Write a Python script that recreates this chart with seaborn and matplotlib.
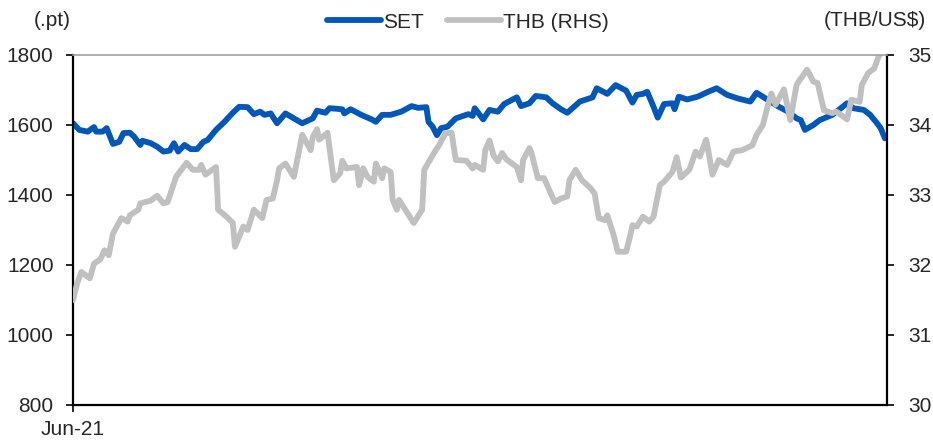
import numpy as np
import pandas as pd
import matplotlib
matplotlib.use("Agg")
import matplotlib.pyplot as plt
import matplotlib.dates as mdates
import seaborn as sns

# ── data ──────────────────────────────────────────────────────
start = pd.Timestamp("2021-06-01")
x_end_days = 387

set_days = [0, 3, 7, 10, 11, 14, 16, 19, 22, 24, 27, 29, 32, 33, 37, 40, 43, 46, 48, 50,
            53, 56, 59, 62, 64, 68, 72, 76, 79, 83, 86, 89, 91, 94, 97, 101, 105, 109, 114, 116,
            120, 122, 128, 129, 132, 137, 142, 144, 147, 151, 156, 161, 164, 168, 169, 171, 173, 175, 178, 182,
            188, 190, 191, 195, 198, 202, 205, 211, 213, 217, 220, 225, 228, 232, 235, 238, 241, 247, 249, 254,
            258, 263, 266, 268, 271, 273, 276, 278, 281, 285, 286, 288, 292, 297, 302, 306, 311, 316, 322, 325,
            330, 335, 340, 344, 346, 348, 352, 355, 357, 361, 363, 368, 371, 376, 379, 382, 384, 386]
set_vals = [1605, 1586, 1581, 1594, 1581, 1581, 1591, 1546, 1552, 1577, 1578, 1567, 1543, 1555, 1548, 1538, 1524, 1527, 1548, 1524,
            1543, 1531, 1531, 1552, 1557, 1586, 1609, 1635, 1652, 1651, 1631, 1638, 1629, 1633, 1605, 1633, 1619, 1605, 1619, 1641,
            1635, 1648, 1645, 1633, 1645, 1629, 1616, 1609, 1629, 1629, 1638, 1654, 1649, 1651, 1609, 1595, 1571, 1591, 1595, 1619,
            1631, 1626, 1648, 1616, 1643, 1638, 1660, 1679, 1654, 1662, 1683, 1679, 1662, 1645, 1635, 1651, 1667, 1679, 1705, 1689,
            1714, 1698, 1664, 1686, 1689, 1695, 1652, 1621, 1660, 1662, 1645, 1681, 1673, 1681, 1695, 1705, 1686, 1676, 1667, 1692,
            1673, 1654, 1638, 1619, 1614, 1586, 1600, 1614, 1619, 1629, 1638, 1662, 1648, 1643, 1629, 1607, 1591, 1562]

thb_days = [0, 2, 4, 8, 10, 13, 15, 17, 19, 23, 26, 27, 31, 32, 37, 40, 43, 45, 49, 54,
            57, 60, 61, 63, 68, 69, 73, 76, 77, 81, 83, 86, 90, 92, 95, 97, 98, 101, 105, 109,
            113, 114, 116, 117, 121, 124, 127, 128, 130, 135, 136, 138, 140, 143, 144, 147, 148, 151, 152, 154,
            155, 159, 160, 162, 166, 167, 172, 174, 177, 180, 182, 187, 190, 191, 195, 196, 198, 200, 202, 204,
            206, 211, 213, 214, 217, 218, 221, 224, 226, 229, 232, 235, 236, 239, 242, 246, 248, 250, 253, 254,
            257, 259, 263, 265, 266, 268, 271, 274, 276, 279, 281, 285, 287, 289, 293, 296, 298, 301, 302, 304,
            307, 311, 314, 318, 323, 325, 328, 330, 332, 334, 338, 341, 344, 345, 349, 352, 354, 357, 361, 363,
            368, 370, 374, 375, 378, 381, 383, 385]
thb_vals = [31.50, 31.74, 31.90, 31.81, 32.02, 32.08, 32.21, 32.14, 32.45, 32.67, 32.62, 32.71, 32.79, 32.88, 32.92, 32.99, 32.88, 32.90, 33.26, 33.46,
            33.36, 33.36, 33.43, 33.29, 33.40, 32.79, 32.69, 32.60, 32.26, 32.55, 32.50, 32.79, 32.67, 32.93, 32.95, 33.21, 33.38, 33.45, 33.26, 33.86,
            33.64, 33.83, 33.94, 33.79, 33.89, 33.21, 33.31, 33.49, 33.38, 33.40, 33.14, 33.38, 33.26, 33.19, 33.45, 33.24, 33.38, 33.33, 32.93, 32.79,
            32.93, 32.74, 32.69, 32.60, 32.79, 33.36, 33.62, 33.71, 33.88, 33.89, 33.50, 33.49, 33.38, 33.43, 33.36, 33.64, 33.78, 33.56, 33.48, 33.60,
            33.51, 33.40, 33.21, 33.50, 33.67, 33.60, 33.24, 33.24, 33.10, 32.90, 32.95, 32.98, 33.21, 33.36, 33.21, 33.10, 33.02, 32.67, 32.64, 32.71,
            32.43, 32.19, 32.19, 32.43, 32.57, 32.55, 32.69, 32.62, 32.69, 33.14, 33.19, 33.33, 33.54, 33.25, 33.36, 33.62, 33.55, 33.79, 33.64, 33.29,
            33.50, 33.43, 33.62, 33.64, 33.71, 33.86, 34.00, 34.24, 34.45, 34.29, 34.51, 34.07, 34.57, 34.62, 34.79, 34.62, 34.60, 34.21, 34.17, 34.19,
            34.08, 34.36, 34.33, 34.57, 34.74, 34.81, 34.98, 35.07]

left_ticks = [800, 1000, 1200, 1400, 1600, 1800]
right_ticks = [30, 31, 32, 33, 34, 35]

df_set = pd.DataFrame({"date": start + pd.to_timedelta(set_days, unit="D"), "SET": set_vals})
df_thb = pd.DataFrame({"date": start + pd.to_timedelta(thb_days, unit="D"), "THB": thb_vals})

# ── style ─────────────────────────────────────────────────────
sns.set_style("white")
plt.rcParams["font.family"] = ["Liberation Sans", "DejaVu Sans"]

BLUE = "#0057B8"
GREY = "#C0C0C0"
FS = 15

fig, ax = plt.subplots(figsize=(9.33, 4.45), dpi=100)
fig.subplots_adjust(left=73 / 933, right=887 / 933, top=1 - 55 / 445, bottom=1 - 405 / 445)
ax2 = ax.twinx()

sns.lineplot(data=df_set, x="date", y="SET", ax=ax, color=BLUE, linewidth=4.2,
             estimator=None, sort=False, legend=False)
sns.lineplot(data=df_thb, x="date", y="THB", ax=ax2, color=GREY, linewidth=4.2,
             estimator=None, sort=False, legend=False)

ax.set_xlim(start, start + pd.Timedelta(days=x_end_days))
ax.set_ylim(800, 1800)
ax2.set_ylim(30, 35)
ax.set_yticks(left_ticks)
ax2.set_yticks(right_ticks)
ax.set_xticks([start])
ax.xaxis.set_major_formatter(mdates.DateFormatter("%b-%y"))
ax.set_xlabel("")
ax.set_ylabel("")
ax2.set_ylabel("")

for a in (ax, ax2):
    for s in a.spines.values():
        s.set_visible(False)
for side in ("left", "bottom"):
    ax.spines[side].set_visible(True)
    ax.spines[side].set_color("black")
    ax.spines[side].set_linewidth(1.6)
ax2.spines["right"].set_visible(True)
ax2.spines["right"].set_color("black")
ax2.spines["right"].set_linewidth(1.6)
ax2.spines["top"].set_visible(True)
ax2.spines["top"].set_color("#A0A0A0")
ax2.spines["top"].set_linewidth(1.2)

ax.tick_params(axis="y", direction="out", length=5, width=1.4, pad=9, labelsize=FS, left=True)
ax.tick_params(axis="x", direction="out", length=5, width=1.4, pad=6, labelsize=FS, bottom=True)
ax2.tick_params(axis="y", direction="out", length=5, width=1.4, pad=10, labelsize=FS, right=True)

fig.text(52 / 933, 1 - 20 / 445, "(.pt)", fontsize=FS, ha="center", va="center")
fig.text(926 / 933, 1 - 20 / 445, "(THB/US$)", fontsize=FS, ha="right", va="center")

handles = [ax.lines[0], ax2.lines[0]]
fig.legend(handles, ["SET", "THB (RHS)"], loc="center", bbox_to_anchor=(468 / 933, 1 - 22 / 445),
           ncol=2, frameon=False, fontsize=FS, handlelength=2.6, handletextpad=0.1, columnspacing=1.1)

fig.savefig("out.png", dpi=100)
